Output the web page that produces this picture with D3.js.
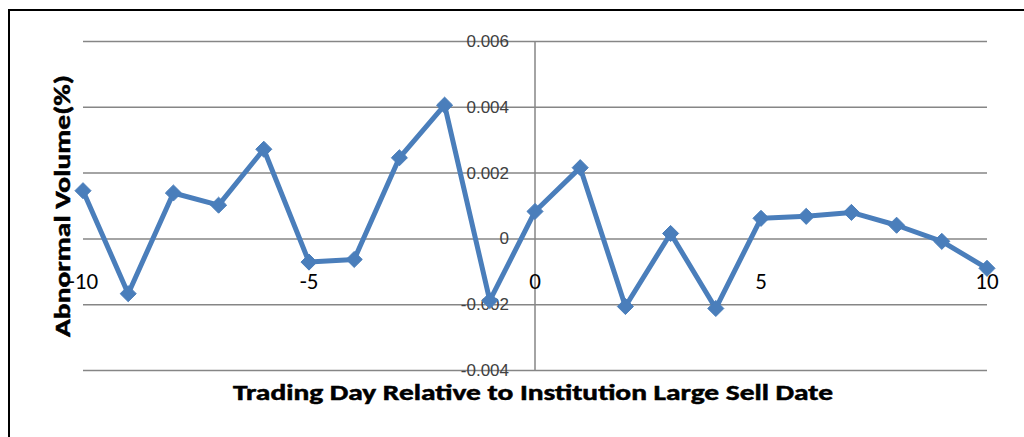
<!DOCTYPE html>
<html><head><meta charset="utf-8">
<script src="https://cdn.jsdelivr.net/npm/d3@7"></script>
<style>body{margin:0;background:#fff}svg{display:block}</style>
</head><body>
<svg id="c" width="1024" height="437"></svg>
<script>
const days = [-10,-9,-8,-7,-6,-5,-4,-3,-2,-1,0,1,2,3,4,5,6,7,8,9,10];
const volume = [0.00145,-0.00168,0.00138,0.00101,0.00271,-0.00072,-0.00064,0.00245,0.00405,-0.00189,0.00082,0.00215,-0.00207,0.00015,-0.00213,0.00061,0.00067,0.00079,0.00040,-0.00009,-0.00091];
const xTicks = [-10,-5,0,5,10];
const yTicks = [-0.004,-0.002,0,0.002,0.004,0.006];
const xTitle = "Trading Day Relative to Institution Large Sell Date";
const yTitle = "Abnormal Volume(%)";

const svg = d3.select("#c");
const x = d3.scaleLinear().domain([-10,10]).range([83,987]);
const y = d3.scaleLinear().domain([-0.004,0.006]).range([370,41]);

// border
svg.append("rect").attr("x",9).attr("y",10).attr("width",1030).attr("height",440)
  .attr("fill","none").attr("stroke","#000").attr("stroke-width",2);

// gridlines
const yAxis = d3.axisLeft(y).tickValues(yTicks).tickSize(-(987-83)).tickFormat("");
svg.append("g").attr("transform","translate(83,0)").call(yAxis)
  .call(g=>g.select(".domain").remove())
  .call(g=>g.selectAll("line").attr("stroke","#868686").attr("stroke-width",1.5));

// vertical axis line at x=0
svg.append("line").attr("x1",x(0)).attr("x2",x(0)).attr("y1",y(0.006)).attr("y2",y(-0.004))
  .attr("stroke","#868686").attr("stroke-width",1.5);

// y tick labels
svg.append("g").selectAll("text").data(yTicks).join("text")
  .attr("x",x(0)-26).attr("y",d=>y(d)).attr("dy","0.35em").attr("text-anchor","end")
  .attr("font-family","Liberation Sans, Arial, sans-serif").attr("font-size",17).attr("fill","#404040")
  .text(d=>d===0?"0":d3.format(".3f")(d).replace("−","-"));

// x tick labels
svg.append("g").selectAll("text").data(xTicks).join("text")
  .attr("x",d=>x(d)).attr("y",289).attr("text-anchor","middle")
  .attr("font-family","Carlito, Lato, sans-serif").attr("font-size",23).attr("fill","#000")
  .text(d=>String(d));

// line
const line = d3.line().x((d,i)=>x(days[i])).y(d=>y(d));
svg.append("path").datum(volume).attr("d",line).attr("fill","none")
  .attr("stroke","#4a7ebb").attr("stroke-width",5).attr("stroke-linejoin","round");

// markers
const sym = d3.symbol().type(d3.symbolDiamond2).size(165);
svg.append("g").selectAll("path").data(volume).join("path")
  .attr("transform",(d,i)=>`translate(${x(days[i])},${y(d)})`)
  .attr("d",sym).attr("fill","#4a7ebb").attr("stroke","#4a7ebb").attr("stroke-width",1);

// titles
svg.append("text").attr("x",533).attr("y",400).attr("text-anchor","middle")
  .attr("font-family","Carlito, Lato, sans-serif").attr("font-weight","bold").attr("font-size",22)
  .attr("stroke","#000").attr("stroke-width",0.5)
  .attr("textLength",600).attr("lengthAdjust","spacingAndGlyphs").text(xTitle);
svg.append("text").attr("transform","translate(70,206) rotate(-90)").attr("text-anchor","middle")
  .attr("font-family","Carlito, Lato, sans-serif").attr("font-weight","bold").attr("font-size",22)
  .attr("stroke","#000").attr("stroke-width",0.5)
  .attr("textLength",262).attr("lengthAdjust","spacingAndGlyphs").text(yTitle);
</script>
</body></html>
